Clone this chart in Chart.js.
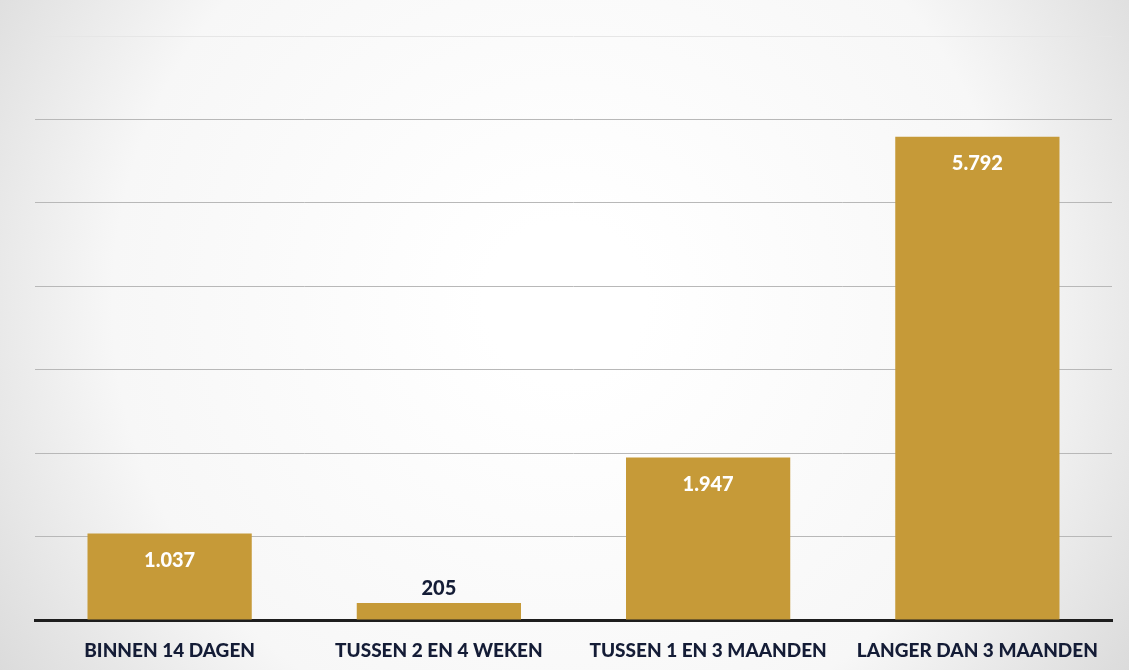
<!DOCTYPE html>
<html>
<head>
<meta charset="utf-8">
<script src="https://cdn.jsdelivr.net/npm/chart.js@4.4.0/dist/chart.umd.min.js"></script>
<style>
  html, body { margin: 0; padding: 0; background: #ffffff; }
  #wrap { width: 1129px; height: 670px; position: relative; }
</style>
</head>
<body>
<div id="wrap"><canvas id="chart" width="1129" height="670"></canvas></div>
<script>
const CATEGORIES = ["BINNEN 14 DAGEN", "TUSSEN 2 EN 4 WEKEN", "TUSSEN 1 EN 3 MAANDEN", "LANGER DAN 3 MAANDEN"];
const VALUES = [1037, 205, 1947, 5792];
const Y_MAX = 7000;
const Y_STEP = 1000;

const BAR_COLOR = "#c69a38";
const LABEL_DARK = "#141c36";

function formatNl(n) {
  return String(n).replace(/\B(?=(\d{3})+(?!\d))/g, ".");
}

// scanned-paper look: white centre, greyish edges
const paperBackground = {
  id: "paperBackground",
  beforeDraw(chart) {
    const { ctx, width, height } = chart;
    ctx.save();
    const g = ctx.createRadialGradient(width * 0.5, height * 0.45, 80, width * 0.5, height * 0.45, width * 0.62);
    g.addColorStop(0, "#ffffff");
    g.addColorStop(0.6, "#f7f7f7");
    g.addColorStop(1, "#d8d8d8");
    ctx.fillStyle = g;
    ctx.fillRect(0, 0, width, height);
    ctx.restore();
  },
};

const valueLabels = {
  id: "valueLabels",
  afterDatasetsDraw(chart) {
    const { ctx } = chart;
    const meta = chart.getDatasetMeta(0);
    ctx.save();
    ctx.font = "900 20px Lato, 'Open Sans', sans-serif";
    ctx.textAlign = "center";
    ctx.textBaseline = "middle";
    meta.data.forEach((bar, i) => {
      const v = VALUES[i];
      const h = bar.base - bar.y;
      if (h > 50) {
        ctx.fillStyle = "#ffffff";
        ctx.fillText(formatNl(v), bar.x, bar.y + 27);
      } else {
        ctx.fillStyle = LABEL_DARK;
        ctx.fillText(formatNl(v), bar.x, bar.y - 14);
      }
    });
    ctx.restore();
  },
};

new Chart(document.getElementById("chart"), {
  type: "bar",
  data: {
    labels: CATEGORIES,
    datasets: [
      {
        data: VALUES,
        backgroundColor: BAR_COLOR,
        borderWidth: 0,
        barPercentage: 0.61,
        categoryPercentage: 1,
      },
    ],
  },
  options: {
    responsive: false,
    animation: false,
    layout: { padding: { left: 35, right: 17, top: 36, bottom: 0 } },
    scales: {
      x: {
        grid: { display: false },
        border: { display: true, color: "#1e1e1e", width: 3 },
        ticks: {
          color: LABEL_DARK,
          font: { family: "Lato, 'Open Sans', sans-serif", size: 19, weight: "900" },
          padding: 11,
          maxRotation: 0,
          autoSkip: false,
        },
        afterFit(scale) {
          scale.height = 50;
        },
      },
      y: {
        min: 0,
        max: Y_MAX,
        ticks: { display: false, stepSize: Y_STEP },
        grid: {
          color: (c) => (c.tick && c.tick.value === Y_MAX ? "#e6e6e6" : "#b8b8b8"),
          lineWidth: 1,
          drawTicks: false,
        },
        border: { display: false },
        afterFit(scale) {
          scale.width = 0;
        },
      },
    },
    plugins: {
      legend: { display: false },
      tooltip: { enabled: false },
    },
  },
  plugins: [paperBackground, valueLabels],
});
</script>
</body>
</html>
